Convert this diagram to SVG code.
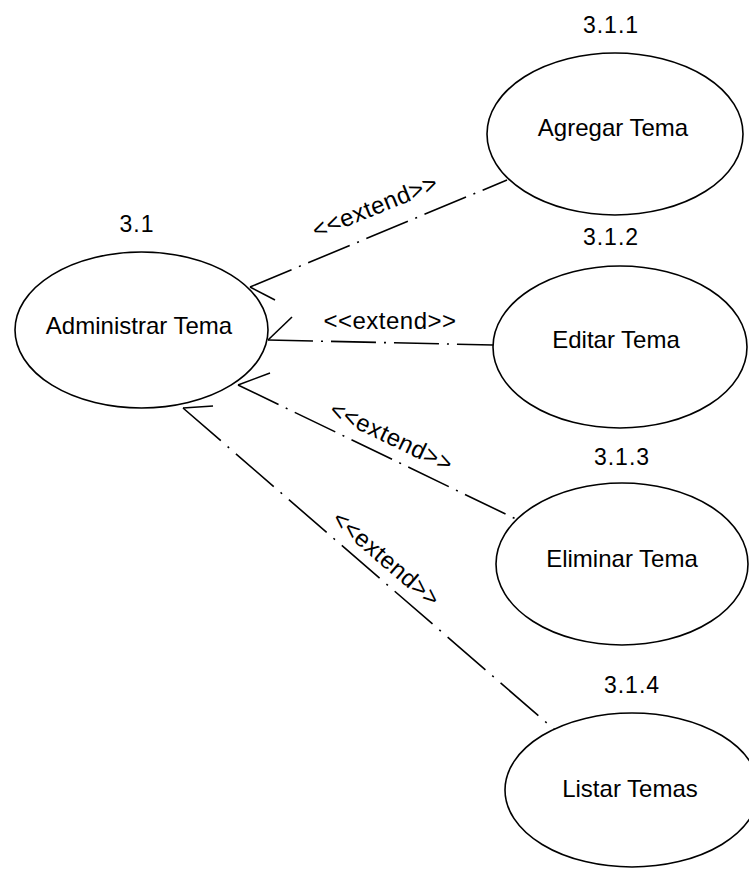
<svg xmlns="http://www.w3.org/2000/svg" width="749" height="871" viewBox="0 0 749 871">
  <style>
    .uc { fill: #ffffff; stroke: #000000; stroke-width: 1.6; }
    .lbl { font-family: "Liberation Sans", Arial, sans-serif; font-size: 24px; fill: #000000; text-anchor: middle; }
    .num { font-family: "Liberation Sans", Arial, sans-serif; font-size: 23px; fill: #000000; text-anchor: middle; letter-spacing: 1px; }
    .ext { fill: none; stroke: #000000; stroke-width: 1.6; stroke-dasharray: 45 8 2 8; }
    .ext.long { stroke-dasharray: 50 9 2 9; }
    .barb { fill: none; stroke: #000000; stroke-width: 1.6; }
    .stereo { font-family: "Liberation Sans", Arial, sans-serif; font-size: 24px; fill: #000000; text-anchor: middle; letter-spacing: 0.5px; }
  </style>
  <rect width="749" height="871" fill="#ffffff"/>

  <!-- extend relations: dashed lines with an open half-arrow at the base use case -->
  <g id="connectors">
    <path class="ext" d="M250,287 L507,180"/>
    <path class="barb" d="M250,287 L275,300"/>
    <text class="stereo" transform="translate(378,214) rotate(-22)">&lt;&lt;extend&gt;&gt;</text>

    <path class="ext" d="M268,340 L493,345"/>
    <path class="barb" d="M268,340 L292,317"/>
    <text class="stereo" x="390" y="329">&lt;&lt;extend&gt;&gt;</text>

    <path class="ext" d="M238,385 L518,520"/>
    <path class="barb" d="M238,385 L270,373"/>
    <text class="stereo" transform="translate(388,444) rotate(25.5)">&lt;&lt;extend&gt;&gt;</text>

    <path class="ext long" d="M183,408 L555,730"/>
    <path class="barb" d="M183,408 L213,406"/>
    <text class="stereo" transform="translate(381,565) rotate(40.6)">&lt;&lt;extend&gt;&gt;</text>
  </g>

  <g id="uc-3-1">
    <ellipse class="uc" cx="141.5" cy="330" rx="126.5" ry="78"/>
    <text class="num" x="137" y="232">3.1</text>
    <text class="lbl" x="139" y="334">Administrar Tema</text>
  </g>

  <g id="uc-3-1-1">
    <ellipse class="uc" cx="615" cy="134" rx="128" ry="81"/>
    <text class="num" x="611" y="33">3.1.1</text>
    <text class="lbl" x="613" y="136">Agregar Tema</text>
  </g>

  <g id="uc-3-1-2">
    <ellipse class="uc" cx="620" cy="347" rx="127" ry="81"/>
    <text class="num" x="611" y="245">3.1.2</text>
    <text class="lbl" x="616" y="348">Editar Tema</text>
  </g>

  <g id="uc-3-1-3">
    <ellipse class="uc" cx="622" cy="564" rx="126" ry="81"/>
    <text class="num" x="622" y="465">3.1.3</text>
    <text class="lbl" x="622" y="567">Eliminar Tema</text>
  </g>

  <g id="uc-3-1-4">
    <ellipse class="uc" cx="632" cy="790" rx="127" ry="77"/>
    <text class="num" x="632" y="693">3.1.4</text>
    <text class="lbl" x="630" y="797">Listar Temas</text>
  </g>
</svg>
